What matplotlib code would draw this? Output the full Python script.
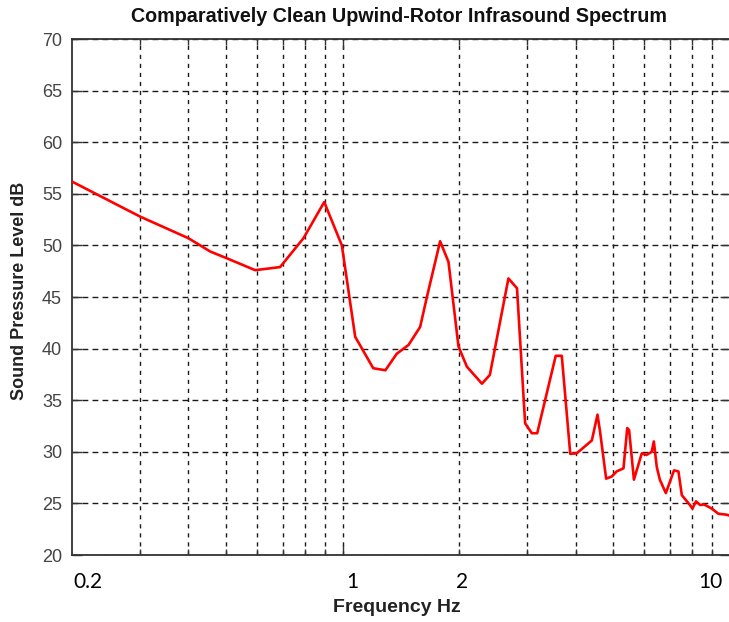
import matplotlib
matplotlib.use('Agg')
import matplotlib.pyplot as plt
import matplotlib.transforms as mtransforms
from matplotlib.ticker import FixedLocator, NullFormatter

# ---- data ----
freq = [0.200, 0.30, 0.40, 0.456, 0.503, 0.595, 0.69, 0.793, 0.897, 0.996,
        1.078, 1.20, 1.29, 1.38, 1.48, 1.586, 1.651, 1.786, 1.877, 1.992,
        2.094, 2.29, 2.40, 2.68, 2.82, 2.96, 3.08, 3.18, 3.43, 3.55,
        3.68, 3.87, 4.02, 4.40, 4.55, 4.62, 4.79, 4.95, 5.10, 5.31,
        5.43, 5.49, 5.65, 5.92, 6.09, 6.28, 6.36, 6.47, 6.59, 6.83,
        7.17, 7.36, 7.51, 7.88, 8.00, 8.17, 8.37, 8.57, 8.97, 9.33,
        9.82, 10.0]
spl = [56.2, 52.8, 50.7, 49.4, 48.75, 47.6, 47.9, 50.7, 54.2, 50.0,
       41.15, 38.1, 37.9, 39.5, 40.35, 42.1, 45.0, 50.4, 48.4, 40.2,
       38.25, 36.6, 37.45, 46.8, 45.85, 32.76, 31.8, 31.8, 36.96, 39.3,
       39.3, 29.8, 29.85, 31.1, 33.6, 31.95, 27.4, 27.6, 28.1, 28.4,
       32.3, 32.1, 27.3, 29.85, 29.7, 30.0, 31.0, 28.55, 27.3, 26.0,
       28.2, 28.1, 25.8, 24.85, 24.5, 25.2, 24.85, 24.9, 24.5, 24.0,
       23.9, 23.8]

y_ticks = [20, 25, 30, 35, 40, 45, 50, 55, 60, 65, 70]
x_major = [1, 10]
x_minor = [0.3, 0.4, 0.5, 0.6, 0.7, 0.8, 0.9, 2, 3, 4, 5, 6, 7, 8, 9]
x_label_vals = [0.2, 1, 2, 10]
x_label_text = ['0.2', '1', '2', '10']

title = 'Comparatively Clean Upwind-Rotor Infrasound Spectrum'
xlabel = 'Frequency Hz'
ylabel = 'Sound Pressure Level dB'

# ---- figure ----
W, H = 729, 622
fig = plt.figure(figsize=(W / 100, H / 100), dpi=100)
fig.patch.set_facecolor('white')
ax = fig.add_axes([71.7 / W, (H - 555) / H, (730 - 71.7) / W, (555 - 39) / H])

ax.plot(freq, spl, color='#ff0000', lw=1.9, solid_joinstyle='round', zorder=3)

ax.set_xscale('log')
ax.set_xlim(0.2, 10)
ax.set_ylim(20, 70)
ax.xaxis.set_major_locator(FixedLocator(x_major))
ax.xaxis.set_minor_locator(FixedLocator(x_minor))
ax.xaxis.set_major_formatter(NullFormatter())
ax.xaxis.set_minor_formatter(NullFormatter())
ax.set_yticks(y_ticks)

ax.grid(True, which='both', axis='x', color='#1a1a1a', lw=1.0,
        linestyle=(0, (3, 3.5)))
ax.grid(True, which='major', axis='y', color='#1a1a1a', lw=1.0,
        linestyle=(0, (4.2, 3.0)))

ax.tick_params(axis='both', which='major', direction='in', length=7,
               width=1, color='#333333', top=True, right=True)
ax.tick_params(axis='x', which='minor', direction='in', length=4,
               width=1, color='#333333', top=True)
ax.tick_params(axis='y', labelsize=13, labelcolor='#444444', pad=7)
for lab in ax.get_yticklabels():
    lab.set_family(['Liberation Sans', 'DejaVu Sans'])

for sp in ax.spines.values():
    sp.set_color('#333333')
    sp.set_linewidth(1.3)

# x tick labels drawn as text (custom font like the reference)
label_offsets_px = [16, 10, 3, -20]
for v, t, dx in zip(x_label_vals, x_label_text, label_offsets_px):
    tr = mtransforms.blended_transform_factory(ax.transData, fig.transFigure)
    off = mtransforms.ScaledTranslation(dx / 100, 0, fig.dpi_scale_trans)
    ax.text(v, 1 - 582 / H, t, transform=tr + off, ha='center', va='center',
            fontsize=15, color='black', family=['Lato', 'DejaVu Sans'],
            clip_on=False)

fig.text(399 / W, 1 - 17 / H, title, ha='center', va='center',
         fontsize=14.2, fontweight='bold', color='#111111',
         family=['Liberation Sans', 'DejaVu Sans'])
fig.text(397 / W, 1 - 607 / H, xlabel, ha='center', va='center',
         fontsize=14, fontweight='bold', color='#222222',
         family=['Liberation Sans', 'DejaVu Sans'])
fig.text(20 / W, 1 - 291 / H, ylabel, ha='center', va='center', rotation=90,
         fontsize=13, fontweight='bold', color='#222222',
         family=['Liberation Sans', 'DejaVu Sans'])

fig.savefig('out.png', dpi=100, facecolor='white')
